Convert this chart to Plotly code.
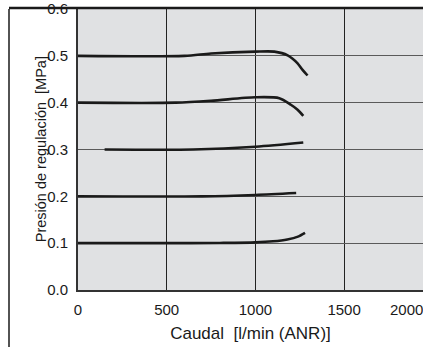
import plotly.graph_objects as go

flow_01 = [0, 500, 800, 1000, 1100, 1180, 1240, 1280]
pres_01 = [0.100, 0.100, 0.1005, 0.1017, 0.104, 0.108, 0.114, 0.122]

flow_02 = [0, 700, 1000, 1230]
pres_02 = [0.200, 0.200, 0.203, 0.207]

flow_03 = [150, 650, 1000, 1270]
pres_03 = [0.300, 0.300, 0.306, 0.315]

flow_04 = [0, 550, 750, 1000, 1135, 1200, 1238, 1270]
pres_04 = [0.400, 0.400, 0.404, 0.4115, 0.4095, 0.3955, 0.385, 0.372]

flow_05 = [0, 600, 750, 1000, 1107, 1182, 1238, 1266, 1294]
pres_05 = [0.500, 0.500, 0.505, 0.509, 0.509, 0.501, 0.484, 0.470, 0.458]

series = [(flow_01, pres_01), (flow_02, pres_02), (flow_03, pres_03),
          (flow_04, pres_04), (flow_05, pres_05)]

x_ticks = [0, 500, 1000, 1500, 2000]
y_ticks = [0.0, 0.1, 0.2, 0.3, 0.4, 0.5, 0.6]

x_title = "Caudal  [l/min (ANR)]"
y_title = "Presión de regulación  [MPa]"

fig = go.Figure()
for fx, py in series:
    fig.add_trace(go.Scatter(x=fx, y=py, mode="lines",
                             line=dict(color="#1a1a1a", width=2.6, shape="spline", smoothing=0.8),
                             showlegend=False, hoverinfo="skip"))

tick_font = dict(family="Liberation Sans, Arial, sans-serif", size=15, color="#1a1a1a")
xtitle_font = dict(family="Liberation Sans, Arial, sans-serif", size=17, color="#1a1a1a")
ytitle_font = dict(family="Liberation Sans, Arial, sans-serif", size=14.5, color="#1a1a1a")

shown_x = [v for v in x_ticks if v < 1945]
extra_x = [v for v in x_ticks if v >= 1945]

annotations = [
    dict(text=str(v), xref="paper", yref="paper", x=0.952, y=0, yanchor="top",
         xanchor="center", yshift=-9, showarrow=False, font=tick_font)
    for v in extra_x
]
annotations.append(dict(text=y_title, xref="paper", yref="paper", x=-0.108, y=0.5,
                        xanchor="center", yanchor="middle", textangle=-90,
                        showarrow=False, font=ytitle_font))

fig.update_layout(
    width=423, height=347,
    margin=dict(l=78, r=0, t=7, b=57),
    paper_bgcolor="white",
    plot_bgcolor="#e0e1e3",
    font=tick_font,
    xaxis=dict(range=[0, 1945], tickvals=shown_x, ticktext=[str(v) for v in shown_x],
               showgrid=True, gridcolor="#222222", gridwidth=1.2,
               showline=True, linecolor="#333333", linewidth=2,
               zeroline=False, ticks="", ticklabelstandoff=5, tickfont=tick_font,
               title=dict(text=x_title, standoff=10, font=xtitle_font)),
    yaxis=dict(range=[0, 0.6], tickvals=y_ticks, ticktext=[f"{v:.1f}" for v in y_ticks],
               showgrid=True, gridcolor="#5a5a5a", gridwidth=1.2,
               showline=True, linecolor="#333333", linewidth=2,
               zeroline=False, ticks="", ticklabelstandoff=5, tickfont=tick_font,
               ticklabeloverflow="allow"),
    shapes=[
        dict(type="line", xref="paper", yref="paper", x0=-0.2, x1=1.0, y0=1.0035, y1=1.0035,
             line=dict(color="#1a1a1a", width=2.5)),
        dict(type="line", xref="paper", yref="paper", x0=-0.2, x1=-0.2, y0=1.0, y1=-0.21,
             line=dict(color="#1a1a1a", width=1.5)),
    ],
    annotations=annotations,
)

fig.write_html("out.html", config={"displayModeBar": False},
               post_script="document.body.style.margin='0';")
